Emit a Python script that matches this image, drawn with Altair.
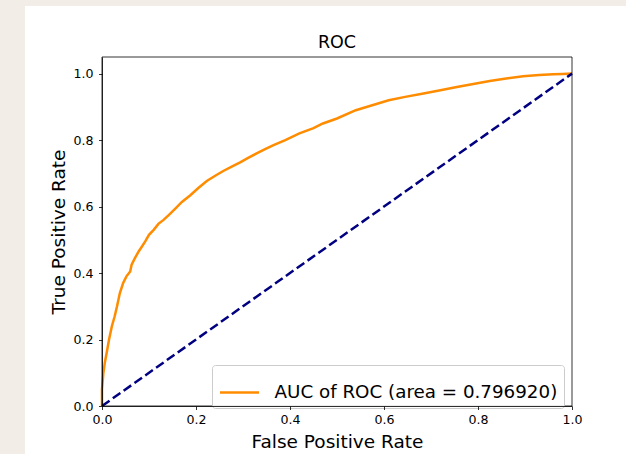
import altair as alt
import pandas as pd

# ROC curve points (false positive rate, true positive rate)
fpr = [0.0, 0.0, 0.003, 0.006, 0.01, 0.015, 0.021, 0.027, 0.032, 0.038, 0.045,
       0.052, 0.06, 0.063, 0.07, 0.078, 0.085, 0.092, 0.1, 0.11, 0.12, 0.131,
       0.143, 0.156, 0.17, 0.188, 0.205, 0.223, 0.24, 0.258, 0.276, 0.294,
       0.31, 0.329, 0.347, 0.365, 0.39, 0.42, 0.45, 0.47, 0.5, 0.54, 0.575,
       0.61, 0.645, 0.684, 0.72, 0.755, 0.79, 0.825, 0.86, 0.896, 0.93, 0.96,
       0.98, 1.0]
tpr = [0.0, 0.05, 0.10, 0.13, 0.16, 0.20, 0.24, 0.27, 0.30, 0.34, 0.37,
       0.39, 0.405, 0.425, 0.445, 0.465, 0.48, 0.495, 0.515, 0.53, 0.548, 0.56,
       0.576, 0.594, 0.614, 0.634, 0.656, 0.677, 0.692, 0.707, 0.72, 0.733,
       0.746, 0.76, 0.773, 0.785, 0.80, 0.82, 0.836, 0.85, 0.865, 0.89, 0.905,
       0.92, 0.93, 0.94, 0.95, 0.96, 0.969, 0.978, 0.985, 0.992, 0.996, 0.998,
       0.999, 1.0]

# chance diagonal
diag_x = [0.0, 1.0]
diag_y = [0.0, 1.0]

auc_value = "0.796920"
series_label = f"AUC of ROC (area = {auc_value})"
chart_title = "ROC"
axis_ticks = [0.0, 0.2, 0.4, 0.6, 0.8, 1.0]

FONT = "DejaVu Sans"
W, H = 470, 349
LW = 2.5

roc_df = pd.DataFrame({"fpr": fpr, "tpr": tpr, "series": series_label})
diag_df = pd.DataFrame({"fpr": diag_x, "tpr": diag_y})
one_row = pd.DataFrame({"k": [0]})

common_axis = dict(
    values=axis_ticks, format=".1f", grid=False, labelFlush=False,
    tickSize=3.5, tickWidth=0.8, tickColor="black", domainColor="black",
    domainWidth=0.8, labelFontSize=12.6, labelFont=FONT, labelColor="black",
    titleFont=FONT, titleFontSize=18.5, titleFontWeight="normal", titleColor="black",
    titleBaseline="alphabetic", zindex=1,
)
x_axis = alt.Axis(title="False Positive Rate", labelPadding=4,
                  titleY=41.6, titleX=W / 2, **common_axis)
y_axis = alt.Axis(title="True Positive Rate", labelPadding=5.5,
                  titleX=-38, titleY=H / 2, titleAngle=270, **common_axis)

xs = alt.Scale(domain=[0, 1], nice=False, zero=False)
ys = alt.Scale(domain=[0, 1.05], nice=False, zero=False)

# white card behind the figure
card = alt.Chart(one_row).mark_rect(color="white").encode(
    x=alt.value(-77), x2=alt.value(530), y=alt.value(-51), y2=alt.value(400)
)

roc = alt.Chart(roc_df).mark_line(strokeWidth=LW, interpolate="linear").encode(
    x=alt.X("fpr:Q", scale=xs, axis=x_axis),
    y=alt.Y("tpr:Q", scale=ys, axis=y_axis),
    order=alt.Order("fpr:Q"),
    color=alt.Color(
        "series:N",
        scale=alt.Scale(domain=[series_label], range=["#ff8c00"]),
        legend=alt.Legend(
            title=None, orient="none", legendX=110, legendY=308,
            symbolType="stroke", symbolSize=1521, symbolStrokeWidth=LW,
            labelFont=FONT, labelFontSize=18.3, labelColor="black", labelLimit=500,
            labelOffset=14, padding=6.5, strokeColor="#cccccc", cornerRadius=3,
            fillColor="rgba(255,255,255,0.8)",
        ),
    ),
)

diag = alt.Chart(diag_df).mark_line(
    color="#000080", strokeWidth=LW, strokeDash=[9.25, 4], strokeCap="butt"
).encode(
    x=alt.X("fpr:Q", scale=xs),
    y=alt.Y("tpr:Q", scale=ys),
)

# axes frame
frame = alt.Chart(one_row).mark_rect(
    filled=False, stroke="black", strokeWidth=0.8
).encode(x=alt.value(0), x2=alt.value("width"), y=alt.value(0), y2=alt.value("height"))

# chart title above the axes
title = alt.Chart(one_row).mark_text(
    text=chart_title, font=FONT, fontSize=17.5, color="black",
    align="center", baseline="alphabetic",
).encode(x=alt.value(W / 2), y=alt.value(-8.6))

chart = alt.layer(card, roc, diag, frame, title).properties(
    width=W,
    height=H,
    background="#f2eee7",
    padding={"left": 102, "top": 57, "right": 54, "bottom": 48},
    autosize=alt.AutoSizeParams(type="none"),
).configure_view(stroke=None)

chart.save("out.html", embed_options={"renderer": "svg", "actions": False})
